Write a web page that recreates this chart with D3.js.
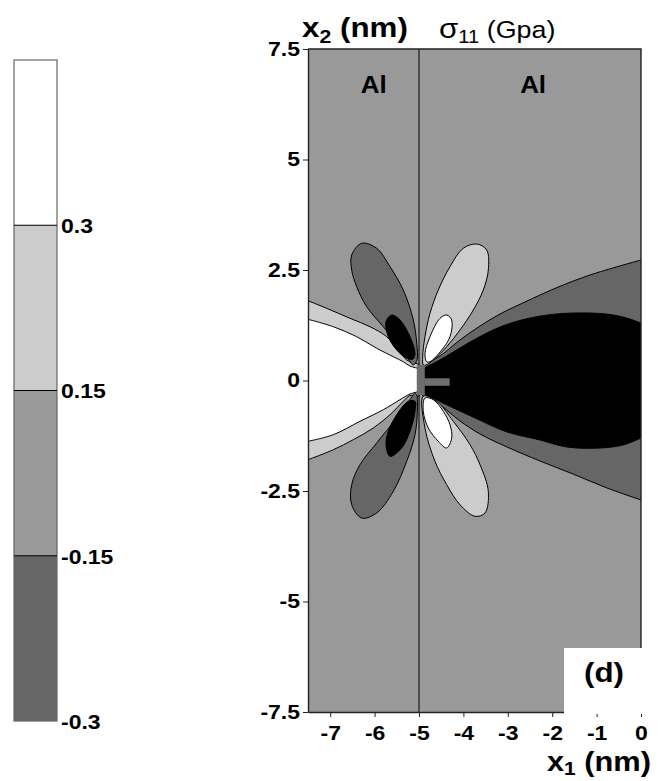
<!DOCTYPE html>
<html>
<head>
<meta charset="utf-8">
<script src="https://cdn.jsdelivr.net/npm/d3@7/dist/d3.min.js"></script>
<style>
  html, body { margin: 0; padding: 0; background: #fff; }
  svg { display: block; }
  text { font-family: "Liberation Sans", Arial, sans-serif; }
</style>
</head>
<body>
<svg id="chart" width="661" height="781"></svg>
<script>
// ---- axes ----
const xTicks = [-7, -6, -5, -4, -3, -2, -1, 0];
const xTickLabels = ["-7", "-6", "-5", "-4", "-3", "-2", "-1", "0"];
const yTicks = [7.5, 5, 2.5, 0, -2.5, -5, -7.5];
const yTickLabels = ["7.5", "5", "2.5", "0", "-2.5", "-5", "-7.5"];

// ---- colour key (sigma_11, GPa) ----
const legendBreaks = ["0.3", "0.15", "-0.15", "-0.3"];
const legendFills = ["#ffffff", "#cccccc", "#999999", "#666666"];

// level fills
const fillWhite = "#ffffff", fillLight = "#cccccc", fillMid = "#999999", fillDark = "#666666", fillBlack = "#000000";

// interface between the two Al grains (x1, nm)
const interfaceX = -5;

// ---- contour boundaries, [x1, x2] in nm ----
// left wedge: light band edge and white core edge (outer edge -> crack tip)
const leftLightUpper = [[-7.5, 1.805], [-7.079, 1.633], [-6.554, 1.407], [-6.104, 1.217], [-5.727, 0.991], [-5.428, 0.652], [-5.277, 0.464], [-5.0, 0.37]];
const leftLightLower = [[-7.5, -1.792], [-6.930, -1.566], [-6.480, -1.339], [-6.029, -1.075], [-5.653, -0.774], [-5.354, -0.471], [-5.203, -0.34], [-5.0, -0.36]];
const leftWhiteUpper = [[-7.5, 1.385], [-6.930, 1.217], [-6.403, 0.991], [-5.953, 0.729], [-5.579, 0.538], [-5.354, 0.425], [-5.203, 0.328], [-5.0, 0.27]];
const leftWhiteLower = [[-7.5, -1.376], [-6.930, -1.226], [-6.329, -0.923], [-5.804, -0.661], [-5.428, -0.434], [-5.203, -0.305], [-5.0, -0.25]];

// right wedge: dark band edge and black core edge (crack tip -> outer edge)
const rightDarkUpper = [[-4.92, 0.33], [-4.527, 0.554], [-4.077, 0.916], [-3.626, 1.233], [-3.176, 1.504], [-2.613, 1.776], [-1.914, 2.093], [-1.149, 2.387], [0, 2.726]];
const rightDarkLower = [[-4.92, -0.35], [-4.527, -0.554], [-4.077, -0.916], [-3.626, -1.210], [-3.018, -1.505], [-2.275, -1.821], [-1.532, -2.115], [-0.766, -2.432], [0, -2.704]];
const rightBlackUpper = [[-4.92, 0.26], [-4.414, 0.532], [-3.851, 0.871], [-3.176, 1.210], [-2.5, 1.414], [-1.757, 1.516], [-0.923, 1.516], [-0.405, 1.437], [0, 1.301]];
const rightBlackLower = [[-4.92, -0.283], [-4.414, -0.532], [-3.784, -0.826], [-3.018, -1.165], [-2.275, -1.346], [-1.667, -1.505], [-0.923, -1.527], [-0.405, -1.459], [0, -1.301]];

// compressive lobes left of the interface
const upperLeftDark = [[-5.045, 0.464], [-5.052, 0.848], [-5.128, 1.369], [-5.354, 2.048], [-5.653, 2.575], [-5.953, 2.991], [-6.291, 3.104], [-6.516, 2.839], [-6.516, 2.5], [-6.403, 2.122], [-6.178, 1.670], [-5.804, 1.217], [-5.502, 0.842], [-5.277, 0.538], [-5.128, 0.351]];
const upperLeftBlack = [[-5.615, 1.482], [-5.428, 1.369], [-5.203, 0.991], [-5.090, 0.615], [-5.135, 0.486], [-5.277, 0.502], [-5.502, 0.690], [-5.691, 0.991], [-5.743, 1.330]];
const lowerLeftDark = [[-5.090, -0.283], [-5.203, -0.434], [-5.502, -0.848], [-5.953, -1.414], [-6.329, -1.905], [-6.516, -2.357], [-6.516, -2.810], [-6.291, -3.111], [-5.953, -2.998], [-5.579, -2.507], [-5.277, -1.828], [-5.090, -1.226], [-5.038, -0.697], [-5.052, -0.321]];
const lowerLeftBlack = [[-5.241, -0.471], [-5.502, -0.774], [-5.691, -1.149], [-5.743, -1.452], [-5.653, -1.715], [-5.390, -1.527], [-5.203, -1.149], [-5.090, -0.697], [-5.090, -0.471]];

// tensile lobes right of the interface
const upperRightLight = [[-4.903, 0.351], [-4.917, 0.538], [-4.865, 0.991], [-4.752, 1.520], [-4.565, 2.048], [-4.302, 2.575], [-4.002, 2.991], [-3.700, 3.088], [-3.475, 2.952], [-3.439, 2.5], [-3.552, 2.048], [-3.777, 1.595], [-4.077, 1.143], [-4.376, 0.765], [-4.678, 0.464], [-4.842, 0.351]];
const upperRightWhite = [[-4.376, 1.482], [-4.264, 1.369], [-4.302, 0.991], [-4.489, 0.690], [-4.752, 0.425], [-4.827, 0.425], [-4.865, 0.615], [-4.752, 0.991], [-4.527, 1.407]];
const lowerRightLight = [[-4.903, -0.357], [-4.865, -1.075], [-4.640, -1.828], [-4.376, -2.357], [-4.077, -2.810], [-3.739, -3.072], [-3.514, -2.998], [-3.439, -2.507], [-3.626, -1.905], [-3.851, -1.452], [-4.228, -0.923], [-4.601, -0.471]];
const lowerRightWhite = [[-4.865, -0.396], [-4.903, -0.697], [-4.791, -1.075], [-4.565, -1.376], [-4.376, -1.527], [-4.264, -1.301], [-4.302, -1.0], [-4.453, -0.697], [-4.678, -0.434]];

// crack: stem at the interface and the arm running into the right grain
const crackStemX = [-5.05, -4.87], crackStemY = [-0.33, 0.35];
const crackArmX = [-4.87, -4.31], crackArmY = [-0.12, 0.05];

// ---- layout ----
const plot = { left: 308, right: 641, top: 49, bottom: 712 };
const svg = d3.select("#chart");

const x = d3.scaleLinear().domain([-7.5, 0]).range([plot.left, plot.right]);
const y = d3.scaleLinear().domain([-7.5, 7.5]).range([plot.bottom, plot.top]);

// widen glyphs horizontally about each text's anchor point
function stretch(sel, k) {
  sel.each(function () {
    const t = d3.select(this);
    const ax = +t.attr("x") || 0, ay = +t.attr("y") || 0;
    t.attr("transform", `translate(${ax},${ay}) scale(${k},1) translate(${-ax},${-ay})`);
  });
}

svg.append("defs").append("clipPath").attr("id", "plotClip")
  .append("rect")
  .attr("x", x(-7.5)).attr("y", y(7.5))
  .attr("width", x(0) - x(-7.5)).attr("height", y(-7.5) - y(7.5));

const field = svg.append("g").attr("clip-path", "url(#plotClip)");

// background level
field.append("rect")
  .attr("x", x(-7.5)).attr("y", y(7.5))
  .attr("width", x(0) - x(-7.5)).attr("height", y(-7.5) - y(7.5))
  .attr("fill", fillMid);

const openLine = d3.line().x(d => x(d[0])).y(d => y(d[1])).curve(d3.curveCatmullRom.alpha(0.5));
const closedLine = d3.line().x(d => x(d[0])).y(d => y(d[1])).curve(d3.curveCatmullRomClosed.alpha(0.5));

// region left of the crack bounded by two edges running outer edge -> tip
function leftRegion(upper, lower) {
  const up = openLine(upper);
  const low = openLine(lower.slice().reverse()).replace(/^M/, "L");
  const out = -8;
  return `${up}${low}L${x(out)},${y(lower[0][1])}L${x(out)},${y(upper[0][1])}Z`;
}
// region right of the crack bounded by two edges running tip -> outer edge
function rightRegion(upper, lower) {
  const up = openLine(upper);
  const out = 0.5;
  const low = openLine(lower.slice().reverse()).replace(/^M/, "L");
  return `${up}L${x(out)},${y(upper[upper.length - 1][1])}L${x(out)},${y(lower[lower.length - 1][1])}${low}Z`;
}

function addRegion(d, fill) {
  field.append("path").attr("d", d)
    .attr("fill", fill).attr("stroke", "#000").attr("stroke-width", 1)
    .attr("stroke-linejoin", "round");
}

addRegion(leftRegion(leftLightUpper, leftLightLower), fillLight);
addRegion(leftRegion(leftWhiteUpper, leftWhiteLower), fillWhite);
addRegion(rightRegion(rightDarkUpper, rightDarkLower), fillDark);
addRegion(rightRegion(rightBlackUpper, rightBlackLower), fillBlack);

[[upperLeftDark, fillDark], [upperLeftBlack, fillBlack],
 [lowerLeftDark, fillDark], [lowerLeftBlack, fillBlack],
 [upperRightLight, fillLight], [upperRightWhite, fillWhite],
 [lowerRightLight, fillLight], [lowerRightWhite, fillWhite]]
  .forEach(([pts, fill]) => addRegion(closedLine(pts), fill));

// grain interface
field.append("line")
  .attr("x1", x(interfaceX)).attr("x2", x(interfaceX))
  .attr("y1", y(7.5)).attr("y2", y(-7.5))
  .attr("stroke", "#000").attr("stroke-width", 1);

// crack
field.append("rect")
  .attr("x", x(crackStemX[0])).attr("y", y(crackStemY[1]))
  .attr("width", x(crackStemX[1]) - x(crackStemX[0]))
  .attr("height", y(crackStemY[0]) - y(crackStemY[1]))
  .attr("fill", "#6e6e6e");
field.append("rect")
  .attr("x", x(crackArmX[0]) - 0.5).attr("y", y(crackArmY[1]))
  .attr("width", x(crackArmX[1]) - x(crackArmX[0]) + 0.5)
  .attr("height", y(crackArmY[0]) - y(crackArmY[1]))
  .attr("fill", "#6e6e6e");

// ---- axes ----
const yAxis = svg.append("g")
  .attr("transform", `translate(${plot.left},0)`)
  .call(d3.axisLeft(y).tickValues(yTicks)
    .tickFormat((d, i) => yTickLabels[i]).tickSize(5).tickPadding(3).tickSizeOuter(0));
const xAxis = svg.append("g")
  .attr("transform", `translate(0,${plot.bottom})`)
  .call(d3.axisBottom(x).tickValues(xTicks)
    .tickFormat((d, i) => xTickLabels[i]).tickSize(5).tickPadding(9).tickSizeOuter(0));

[yAxis, xAxis].forEach(g => {
  g.select(".domain").attr("stroke", "#222").attr("stroke-width", 1.4);
  g.selectAll(".tick line").attr("stroke", "#222").attr("stroke-width", 1);
  g.selectAll(".tick text")
    .attr("fill", "#000")
    .style("font-family", "'Liberation Sans', Arial, sans-serif")
    .style("font-weight", "bold").style("font-size", "20px");
});
stretch(yAxis.selectAll(".tick text"), 1.15);
stretch(xAxis.selectAll(".tick text"), 1.15);

// top and right frame
svg.append("path")
  .attr("d", `M${x(-7.5)},${y(7.5)}H${x(0)}V${y(-7.5)}`)
  .attr("fill", "none").attr("stroke", "#222").attr("stroke-width", 1.4);

// grain labels
const grainLabels = svg.append("g");
[[-6.02, "Al"], [-2.43, "Al"]].forEach(([gx, txt]) => {
  grainLabels.append("text")
    .attr("x", x(gx)).attr("y", 93)
    .attr("text-anchor", "middle")
    .style("font-weight", "bold").style("font-size", "24px")
    .text(txt);
});
stretch(grainLabels.selectAll("text"), 1.08);

// axis titles
const x2Title = svg.append("text").attr("x", 302).attr("y", 37)
  .style("font-weight", "bold").style("font-size", "28px");
x2Title.append("tspan").text("x");
x2Title.append("tspan").attr("dy", 6).style("font-size", "19px").text("2");
x2Title.append("tspan").attr("dy", -6).text(" (nm)");
stretch(x2Title, 1.12);

const x1Title = svg.append("text").attr("x", 651).attr("y", 771)
  .attr("text-anchor", "end")
  .style("font-weight", "bold").style("font-size", "28px");
x1Title.append("tspan").text("x");
x1Title.append("tspan").attr("dy", 4).style("font-size", "19px").text("1");
x1Title.append("tspan").attr("dy", -4).text(" (nm)");
stretch(x1Title, 1.1);

const sigmaTitle = svg.append("text").attr("x", 439).attr("y", 38)
  .style("font-size", "24px");
sigmaTitle.append("tspan").style("font-size", "28px").text("σ");
sigmaTitle.append("tspan").attr("dy", 5).style("font-size", "18px").text("11");
sigmaTitle.append("tspan").attr("dy", -5).text(" (Gpa)");
stretch(sigmaTitle, 1.12);

// panel tag
svg.append("rect").attr("x", 564).attr("y", 648).attr("width", 80).attr("height", 66).attr("fill", "#fff");
const tag = svg.append("text").attr("x", 604).attr("y", 682)
  .attr("text-anchor", "middle")
  .style("font-weight", "bold").style("font-size", "28px").text("(d)");
stretch(tag, 1.12);

// ---- colour key ----
const key = { left: 14, right: 57, top: 60, bottom: 721 };
const keyY = d3.scaleBand().domain(d3.range(legendFills.length)).range([key.top, key.bottom]).padding(0);
const keyG = svg.append("g");
keyG.selectAll("rect.band").data(legendFills).join("rect")
  .attr("class", "band")
  .attr("x", key.left).attr("width", key.right - key.left)
  .attr("y", (d, i) => keyY(i)).attr("height", keyY.bandwidth())
  .attr("fill", d => d);
keyG.append("rect")
  .attr("x", key.left).attr("y", key.top)
  .attr("width", key.right - key.left).attr("height", key.bottom - key.top)
  .attr("fill", "none").attr("stroke", "#666").attr("stroke-width", 1.2);
keyG.selectAll("line.sep").data(legendBreaks.slice(0, 3)).join("line")
  .attr("class", "sep")
  .attr("x1", key.left).attr("x2", key.right)
  .attr("y1", (d, i) => keyY(i) + keyY.bandwidth())
  .attr("y2", (d, i) => keyY(i) + keyY.bandwidth())
  .attr("stroke", "#000").attr("stroke-width", 1.2);
keyG.selectAll("text").data(legendBreaks).join("text")
  .attr("x", 61)
  .attr("y", (d, i) => keyY(i) + keyY.bandwidth() + 8)
  .style("font-weight", "bold").style("font-size", "20px")
  .text(d => d);
stretch(keyG.selectAll("text"), 1.15);
</script>
</body>
</html>
